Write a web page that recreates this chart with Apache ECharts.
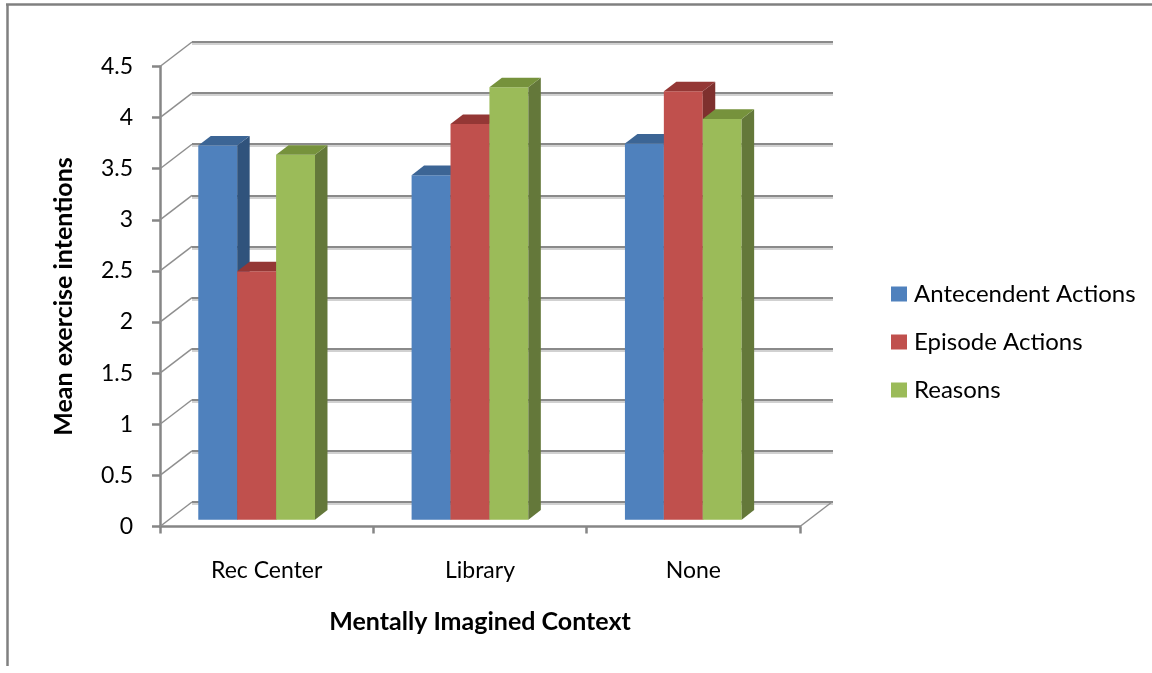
<!DOCTYPE html>
<html>
<head>
<meta charset="utf-8">
<script src="https://cdn.jsdelivr.net/npm/echarts@6/dist/echarts.min.js"></script>
<style>
  html, body { margin: 0; padding: 0; background: #ffffff; }
  #chart { width: 1152px; height: 673px; }
</style>
</head>
<body>
<div id="chart"></div>
<script>
// ---- data ----
const categories = ['Rec Center', 'Library', 'None'];
const seriesNames = ['Antecendent Actions', 'Episode Actions', 'Reasons'];
const antecedentActions = [3.66, 3.37, 3.68];
const episodeActions = [2.43, 3.87, 4.19];
const reasons = [3.57, 4.23, 3.92];
const yTicks = [0, 0.5, 1, 1.5, 2, 2.5, 3, 3.5, 4, 4.5];

const seriesValues = [antecedentActions, episodeActions, reasons];

// ---- 3D look: oblique depth vector of the floor / walls ----
const DEPTH = [32, -24.5];
const FRONT_DEPTH = 0.28;   // bars stand this far into the floor
const BAR_DEPTH = 0.39;     // thickness of each bar along the depth axis
const GROUP_INSET = 0.1374; // gap before the first bar of a category band
const BAR_FRAC = 0.1824;    // bar width as a share of the band

const FACES = [
  { front: '#4F81BD', side: '#30537C', top: '#3C6595' },
  { front: '#C0504D', side: '#7E302E', top: '#943735' },
  { front: '#9BBB59', side: '#64783A', top: '#76923C' }
];

const FONT = 'Lato';
const GRID = { left: 160, top: 66.5, width: 640, height: 460 };
const AXIS_GRAY = '#868686';

const chart = echarts.init(document.getElementById('chart'), null, { renderer: 'canvas' });

// Receding lines on the left wall (one per y tick) and the right floor edge.
function wallRender(params, api) {
  const cs = params.coordSys;
  const v = api.value(1);
  const y = api.coord([0, v])[1];
  const style = { stroke: '#8f8f8f', lineWidth: 1.5 };
  const children = [{
    type: 'line',
    shape: { x1: cs.x, y1: y, x2: cs.x + DEPTH[0], y2: y + DEPTH[1] },
    style: style
  }];
  if (v === 0) {
    children.push({
      type: 'line',
      shape: { x1: cs.x + cs.width, y1: y, x2: cs.x + cs.width + DEPTH[0], y2: y + DEPTH[1] },
      style: style
    });
  }
  return { type: 'group', children: children };
}

// A bar as a box: front face, right side face and top face.
function barRenderer(k) {
  return function (params, api) {
    const i = api.value(0);
    const v = api.value(1);
    const band = api.size([1, 0])[0];
    const base = api.coord([i, 0]);
    const top = api.coord([i, v]);
    const fx = FRONT_DEPTH * DEPTH[0], fy = FRONT_DEPTH * DEPTH[1];
    const dx = BAR_DEPTH * DEPTH[0], dy = BAR_DEPTH * DEPTH[1];
    const W = band * BAR_FRAC;
    const L = base[0] - band / 2 + band * (GROUP_INSET + k * BAR_FRAC) + fx;
    const B = base[1] + fy;
    const T = top[1] + fy;
    const f = FACES[k];
    return {
      type: 'group',
      children: [
        { type: 'rect', shape: { x: L, y: T, width: W, height: B - T }, style: { fill: f.front } },
        { type: 'polygon', shape: { points: [[L + W, B], [L + W, T], [L + W + dx, T + dy], [L + W + dx, B + dy]] }, style: { fill: f.side } },
        { type: 'polygon', shape: { points: [[L, T], [L + W, T], [L + W + dx, T + dy], [L + dx, T + dy]] }, style: { fill: f.top } }
      ]
    };
  };
}

const option = {
  backgroundColor: '#ffffff',
  animation: false,
  textStyle: { fontFamily: FONT },
  grid: [
    { left: GRID.left, top: GRID.top, width: GRID.width, height: GRID.height },
    { left: GRID.left + DEPTH[0], top: GRID.top + DEPTH[1], width: GRID.width + 1, height: GRID.height }
  ],
  legend: {
    orient: 'vertical',
    left: 886,
    top: 277,
    icon: 'rect',
    itemWidth: 16,
    itemHeight: 15,
    itemGap: 24,
    itemStyle: { borderWidth: 0 },
    selectedMode: false,
    textStyle: { fontFamily: FONT, fontSize: 24, lineHeight: 24, color: '#000000', padding: [0, 0, 0, 2] },
    data: seriesNames.map((n, k) => ({ name: n, itemStyle: { color: FACES[k].front } }))
  },
  xAxis: [
    {
      type: 'category',
      gridIndex: 0,
      data: categories,
      boundaryGap: true,
      axisLine: { show: true, lineStyle: { color: AXIS_GRAY, width: 2.5 } },
      axisTick: { show: true, inside: false, length: 7, lineStyle: { color: AXIS_GRAY, width: 2.5 } },
      axisLabel: { fontFamily: FONT, fontSize: 23, color: '#000000', margin: 33 },
      splitLine: { show: false },
      name: 'Mentally Imagined Context',
      nameLocation: 'middle',
      nameGap: 83,
      nameTextStyle: { fontFamily: FONT, fontSize: 25, fontWeight: 'bold', color: '#000000' }
    },
    { type: 'value', gridIndex: 1, min: 0, max: 1, show: false }
  ],
  yAxis: [
    {
      type: 'value',
      gridIndex: 0,
      min: 0,
      max: 4.5,
      interval: 0.5,
      axisLine: { show: true, lineStyle: { color: AXIS_GRAY, width: 2.5 } },
      axisTick: { show: true, inside: false, length: 8, lineStyle: { color: AXIS_GRAY, width: 2.5 } },
      axisLabel: { fontFamily: FONT, fontSize: 23, color: '#000000', margin: 27 },
      splitLine: { show: false },
      name: 'Mean exercise intentions',
      nameLocation: 'middle',
      nameGap: 84,
      nameTextStyle: { fontFamily: FONT, fontSize: 25, fontWeight: 'bold', color: '#000000' }
    },
    {
      type: 'value',
      gridIndex: 1,
      min: 0,
      max: 4.5,
      interval: 0.5,
      axisLine: { show: false },
      axisTick: { show: false },
      axisLabel: { show: false },
      splitLine: {
        show: true,
        lineStyle: { color: '#8a8a8a', width: 2.2, shadowColor: 'rgba(0,0,0,0.18)', shadowOffsetY: 2, shadowBlur: 0 }
      }
    }
  ],
  graphic: [
    { type: 'line', shape: { x1: 6, y1: 4.5, x2: 1152, y2: 4.5 }, style: { stroke: '#808080', lineWidth: 2.5 }, silent: true },
    { type: 'line', shape: { x1: 7.5, y1: 4, x2: 7.5, y2: 666 }, style: { stroke: '#808080', lineWidth: 2.5 }, silent: true }
  ],
  series: [
    {
      type: 'custom',
      name: 'walls',
      xAxisIndex: 0,
      yAxisIndex: 0,
      silent: true,
      z: 1,
      clip: false,
      data: yTicks.map(v => [0, v]),
      renderItem: wallRender
    }
  ].concat(seriesNames.map((name, k) => ({
    type: 'custom',
    name: name,
    xAxisIndex: 0,
    yAxisIndex: 0,
    z: 3,
    clip: false,
    itemStyle: { color: FACES[k].front },
    data: seriesValues[k].map((v, i) => [i, v]),
    renderItem: barRenderer(k)
  })))
};

chart.setOption(option);
</script>
</body>
</html>
